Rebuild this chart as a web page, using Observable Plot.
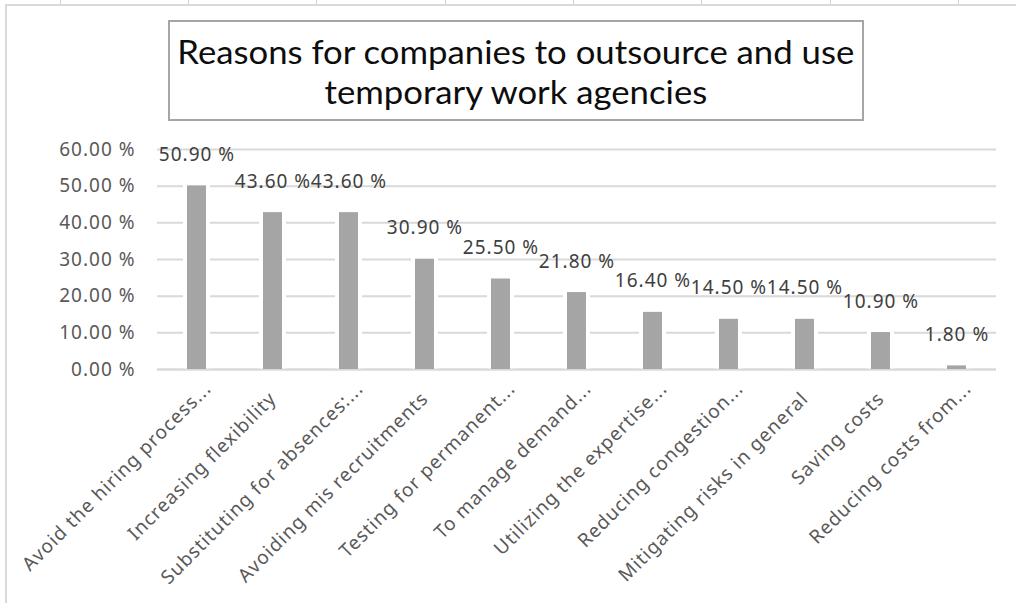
<!DOCTYPE html>
<html>
<head>
<meta charset="utf-8">
<script src="https://cdn.jsdelivr.net/npm/d3@7"></script>
<script src="https://cdn.jsdelivr.net/npm/@observablehq/plot@0.6"></script>
<style>
  html, body { margin: 0; padding: 0; background: #fff; }
  #page { position: relative; width: 1016px; height: 603px; overflow: hidden; background: #fff; }
  #sheet { position: absolute; left: 0; top: 0; width: 1016px; height: 5px; background: #fff; }
  .cellline { position: absolute; top: 0; width: 1px; height: 5px; background: #d4d4d4; }
  #chartarea { position: absolute; left: 5px; top: 4px; width: 1100px; height: 700px; border-left: 2px solid #d9d9d9; border-top: 2px solid #d9d9d9; box-sizing: border-box; }
  #content { position: absolute; left: 0; top: 0; width: 1016px; }
  #titlewrap { position: relative; height: 130px; }
  #titlebox { position: absolute; left: 168px; top: 20px; width: 696px; height: 101px; border: 2px solid #a6a6a6; box-sizing: border-box; background: #fff; }
  #titletext { position: absolute; left: -300px; right: -300px; top: 9px; text-align: center; font-family: Lato, sans-serif; font-size: 33px; line-height: 40px; color: #0d0d0d; white-space: nowrap; }
  .tline { display: inline-block; transform-origin: 50% 50%; }
</style>
</head>
<body>
<div id="page">
  <div id="sheet"></div>
  <div id="chartarea"></div>
  <div id="content">
    <div id="titlewrap">
      <div id="titlebox">
        <div id="titletext"><span class="tline" id="t1">Reasons for companies to outsource and use</span><br><span class="tline" id="t2">temporary work agencies</span></div>
      </div>
    </div>
    <div id="chart"></div>
  </div>
</div>
<script>
// ---- data ----
const categories = [
  "Avoid the hiring process...",
  "Increasing flexibility",
  "Substituting for absences:...",
  "Avoiding mis recruitments",
  "Testing for permanent...",
  "To manage demand...",
  "Utilizing the expertise...",
  "Reducing congestion...",
  "Mitigating risks in general",
  "Saving costs",
  "Reducing costs from..."
];
const values = [0.509, 0.436, 0.436, 0.309, 0.255, 0.218, 0.164, 0.145, 0.145, 0.109, 0.018];
const yTicks = [0, 0.1, 0.2, 0.3, 0.4, 0.5, 0.6];
const sheetColumnLines = [60, 188, 316, 445, 573, 701, 830, 958];

const data = categories.map((c, i) => ({category: c, value: values[i]}));
const pct = d => (d * 100).toFixed(2) + " %";

const sheet = document.getElementById("sheet");
sheetColumnLines.forEach(x => {
  const l = document.createElement("div");
  l.className = "cellline";
  l.style.left = x + "px";
  sheet.appendChild(l);
});

// fit the title to the width of the original (narrower) font
const targetWidth = 677;
const t1 = document.getElementById("t1"), t2 = document.getElementById("t2");
const k = targetWidth / t1.getBoundingClientRect().width;
t1.style.transform = `scaleX(${k})`;
t2.style.transform = `scaleX(${k})`;

const ellipsisCats = categories.filter(c => c.endsWith("..."));
const plainCats = categories.filter(c => !c.endsWith("..."));

const FONT = "'Noto Sans', sans-serif";
const FS = 19;
const chart = Plot.plot({
  width: 1016,
  height: 473,
  marginTop: 19,
  marginBottom: 234,
  marginLeft: 157,
  marginRight: 20,
  style: {fontFamily: FONT, background: "transparent", letterSpacing: "1px"},
  x: {domain: categories, paddingInner: 0.745, paddingOuter: 0.3725, align: 0.5},
  y: {domain: [0, 0.6]},
  marks: [
    Plot.gridY(yTicks, {stroke: "#d9d9d9", strokeOpacity: 1, strokeWidth: 2}),
    Plot.barY(data, {x: "category", y: "value", fill: "white", insetLeft: -4, insetRight: -4}),
    Plot.ruleY([0], {stroke: "#d9d9d9", strokeWidth: 2}),
    Plot.barY(data, {x: "category", y: "value", fill: "#a5a5a5", insetTop: 3}),
    Plot.text(data, {x: "category", y: "value", text: d => pct(d.value), dy: -28, fontSize: FS, fill: "#404040"}),
    Plot.axisY(yTicks, {tickSize: 0, tickPadding: 22, tickFormat: pct, fontSize: FS, fill: "#595959", label: null}),
    Plot.axisX(ellipsisCats, {tickSize: 0, tickPadding: 0, tickRotate: -45, fontSize: FS, fill: "#595959", label: null, dx: 11, dy: 16}),
    Plot.axisX(plainCats, {tickSize: 0, tickPadding: 0, tickRotate: -45, fontSize: FS, fill: "#595959", label: null, dx: 0, dy: 26})
  ]
});
document.getElementById("chart").appendChild(chart);
</script>
</body>
</html>
